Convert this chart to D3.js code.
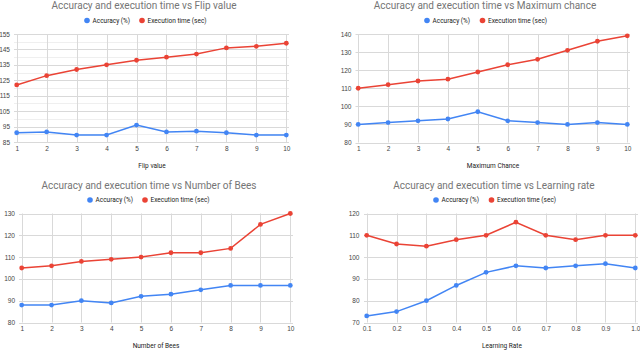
<!DOCTYPE html>
<head>
  <meta charset="utf-8">
  <style>
    body { margin: 0; background: #fff; font-family: Roboto, Arial, sans-serif; }
    .title { font-size: 10px; fill: #757575; text-anchor: middle; }
    .legend text { font-size: 6.5px; fill: #222; }
    .tick text { font-size: 6.5px; fill: #444; }
    .axis-title { font-size: 6.5px; fill: #222; text-anchor: middle; }
    .grid line { stroke: #d9d9d9; stroke-width: 1; }
    .grid .minor { stroke: #efefef; }
  </style>
</head>
<body>
  <svg width="640" height="350"></svg>
  <script src="https://d3js.org/d3.v7.min.js"></script>
  <script>

  // ---- data ----
  var flipValues = [1, 2, 3, 4, 5, 6, 7, 8, 9, 10];
  var flipAccuracy = [91, 91.5, 89.5, 89.5, 96, 91.5, 92, 91, 89.5, 89.5];
  var flipTime = [122, 128, 132, 135, 138, 140, 142, 146, 147, 149];
  var flipTicks = [85, 95, 105, 115, 125, 135, 145, 155];

  var maxChance = [1, 2, 3, 4, 5, 6, 7, 8, 9, 10];
  var maxChanceAccuracy = [90, 91, 92, 93, 97, 92, 91, 90, 91, 90];
  var maxChanceTime = [110, 112, 114, 115, 119, 123, 126, 131, 136, 139];
  var maxChanceTicks = [80, 90, 100, 110, 120, 130, 140];

  var beeCount = [1, 2, 3, 4, 5, 6, 7, 8, 9, 10];
  var beeAccuracy = [88, 88, 90, 89, 92, 93, 95, 97, 97, 97];
  var beeTime = [105, 106, 108, 109, 110, 112, 112, 114, 125, 130];
  var beeTicks = [80, 90, 100, 110, 120, 130];

  var learningRate = ["0.1", "0.2", "0.3", "0.4", "0.5", "0.6", "0.7", "0.8", "0.9", "1.0"];
  var rateAccuracy = [73, 75, 80, 87, 93, 96, 95, 96, 97, 95];
  var rateTime = [110, 106, 105, 108, 110, 116, 110, 108, 110, 110];
  var rateTicks = [70, 80, 90, 100, 110, 120];

  var seriesNames = ["Accuracy (%)", "Execution time (sec)"];
  var colors = ["#4285f4", "#ea4335"];

  var charts = [
    { title: "Accuracy and execution time vs Flip value", xTitle: "Flip value",
      x: flipValues, acc: flipAccuracy, time: flipTime, ticks: flipTicks, minor: true,
      left: 14, right: 289, top: 34, bottom: 142, titleX: 144, legendX: 87, xTitleX: 152, labelX: 10 },
    { title: "Accuracy and execution time vs Maximum chance", xTitle: "Maximum Chance",
      x: maxChance, acc: maxChanceAccuracy, time: maxChanceTime, ticks: maxChanceTicks,
      left: 355.5, right: 630, top: 34, bottom: 142.5, titleX: 485, legendX: 427, xTitleX: 493, labelX: 351.5 },
    { title: "Accuracy and execution time vs Number of Bees", xTitle: "Number of Bees",
      x: beeCount, acc: beeAccuracy, time: beeTime, ticks: beeTicks,
      left: 19, right: 293, top: 213.5, bottom: 322.5, titleX: 149, legendX: 90, xTitleX: 156, labelX: 15 },
    { title: "Accuracy and execution time vs Learning rate", xTitle: "Learning Rate",
      x: learningRate, acc: rateAccuracy, time: rateTime, ticks: rateTicks,
      left: 364, right: 638, top: 213.5, bottom: 322.5, titleX: 494, legendX: 436, xTitleX: 502, labelX: 359.5 }
  ];

  var svg = d3.select("svg");

  charts.forEach(function(c) {
    var g = svg.append("g");
    var pad = 2.7;

    var x = d3.scalePoint()
        .domain(c.x)
        .range([c.left + pad, c.right - pad]);

    var y = d3.scaleLinear()
        .domain(d3.extent(c.ticks))
        .range([c.bottom, c.top]);

    // minor grid
    if (c.minor) {
      var minorTicks = d3.range(c.ticks[0] + 5, c.ticks[c.ticks.length - 1], 10);
      g.append("g").attr("class", "grid")
        .selectAll("line").data(minorTicks).enter().append("line")
          .attr("class", "minor")
          .attr("x1", c.left).attr("x2", c.right)
          .attr("y1", function(d) { return Math.round(y(d)) + 0.5; })
          .attr("y2", function(d) { return Math.round(y(d)) + 0.5; });
    }

    // grid
    var grid = g.append("g").attr("class", "grid");
    grid.selectAll(".h").data(c.ticks).enter().append("line")
        .attr("class", "h")
        .attr("x1", c.left).attr("x2", c.right)
        .attr("y1", function(d) { return Math.round(y(d)) + 0.5; })
        .attr("y2", function(d) { return Math.round(y(d)) + 0.5; });
    grid.selectAll(".v").data(c.x).enter().append("line")
        .attr("class", "v")
        .attr("x1", function(d) { return Math.round(x(d)) + 0.5; })
        .attr("x2", function(d) { return Math.round(x(d)) + 0.5; })
        .attr("y1", c.top).attr("y2", c.bottom);

    // y axis labels
    var yAxis = d3.axisLeft(y).tickValues(c.ticks).tickSize(0).tickPadding(0);
    g.append("g")
        .attr("transform", "translate(" + c.labelX + ",0)")
        .call(yAxis)
        .call(function(a) { a.select(".domain").remove(); });

    // x axis labels
    var xAxis = d3.axisBottom(x).tickSize(0).tickPadding(4);
    g.append("g")
        .attr("transform", "translate(0," + c.bottom + ")")
        .call(xAxis)
        .call(function(a) { a.select(".domain").remove(); });

    // titles
    g.append("text").attr("class", "title")
        .attr("x", c.titleX).attr("y", c.top - 25)
        .text(c.title);
    g.append("text").attr("class", "axis-title")
        .attr("x", c.xTitleX).attr("y", c.bottom + 25.5)
        .text(c.xTitle);

    // legend
    var legend = g.append("g").attr("class", "legend")
        .attr("transform", "translate(" + c.legendX + "," + (c.top - 13.5) + ")");
    var offsets = [0, c.legendX < 100 ? 55 : 55.5];
    seriesNames.forEach(function(name, i) {
      legend.append("circle")
          .attr("cx", offsets[i]).attr("cy", 0).attr("r", 2.8)
          .attr("fill", colors[i]);
      legend.append("text")
          .attr("x", offsets[i] + 5.5).attr("y", 2.3)
          .text(name);
    });

    // lines
    var line = d3.line()
        .x(function(d, i) { return x(c.x[i]); })
        .y(function(d) { return y(d); });

    [c.acc, c.time].forEach(function(values, i) {
      var s = g.append("g");
      s.append("path")
          .attr("d", line(values))
          .attr("fill", "none")
          .attr("stroke", colors[i])
          .attr("stroke-width", 1.5);
      s.selectAll("circle").data(values).enter().append("circle")
          .attr("cx", function(d, j) { return x(c.x[j]); })
          .attr("cy", function(d) { return y(d); })
          .attr("r", 2.4)
          .attr("fill", colors[i]);
    });
  });

  </script>
</body>
</html>
